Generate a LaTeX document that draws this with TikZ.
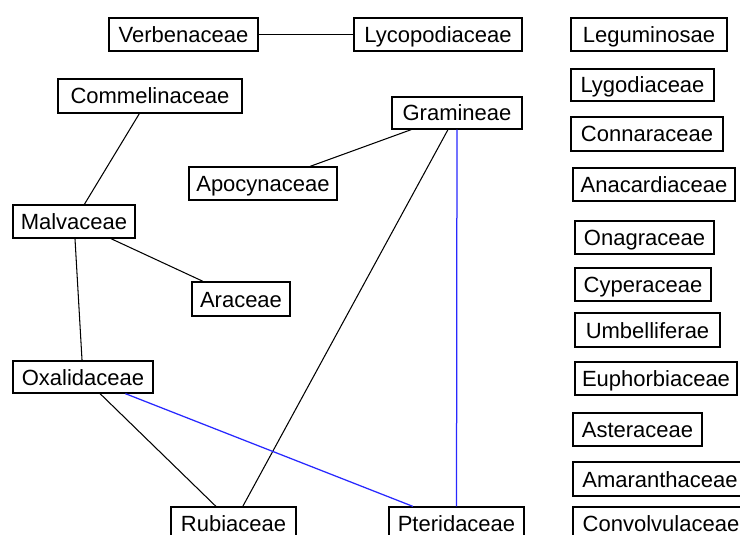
\documentclass[tikz,border=0pt]{standalone}
\usepackage{fontspec}
\setmainfont{Liberation Sans}
\definecolor{edgeblue}{RGB}{40,40,255}
\begin{document}
\begin{tikzpicture}[x=1pt,y=-1pt,
  fam/.style={draw=black, line width=1.3pt, fill=white, inner sep=0pt,
    minimum height=33pt, text height=18pt, text depth=2pt,
    font=\fontsize{22}{26}\selectfont, anchor=center},
  edge/.style={draw=black, line width=1.05pt},
  bedge/.style={draw=edgeblue, line width=1.25pt}]
\clip (0,0) rectangle (740,535);
\fill[white] (0,0) rectangle (740,535);
% nodes
\node[fam, minimum width=149pt] (verb) at (183.5,34.5) {Verbenaceae};
\node[fam, minimum width=168pt] (lyco) at (438,34.5) {Lycopodiaceae};
\node[fam, minimum width=156pt] (legu) at (649,34.5) {Leguminosae};
\node[fam, minimum width=143pt, minimum height=32pt] (lygo) at (642.5,85) {Lygodiaceae};
\node[fam, minimum width=152pt, minimum height=34pt] (conn) at (647,134) {Connaraceae};
\node[fam, minimum width=162pt] (anac) at (654,184.5) {Anacardiaceae};
\node[fam, minimum width=139pt] (onag) at (644.5,237.5) {Onagraceae};
\node[fam, minimum width=136pt] (cype) at (643,284.5) {Cyperaceae};
\node[fam, minimum width=145pt, minimum height=34pt] (umbe) at (647.5,330) {Umbelliferae};
\node[fam, minimum width=162pt] (euph) at (656,378.5) {Euphorbiaceae};
\node[fam, minimum width=129pt] (aste) at (637.5,429.5) {Asteraceae};
\node[fam, minimum width=174pt, minimum height=34pt] (amar) at (660,479) {Amaranthaceae};
\node[fam, minimum width=176pt] (conv) at (661,523.5) {Convolvulaceae};
\node[fam, minimum width=135pt] (pter) at (456.5,523.5) {Pteridaceae};
\node[fam, minimum width=125pt] (rubi) at (233.5,523.5) {Rubiaceae};
\node[fam, minimum width=184pt, minimum height=34pt] (comm) at (150,96) {Commelinaceae};
\node[fam, minimum width=148pt] (apoc) at (263,183.5) {Apocynaceae};
\node[fam, minimum width=130pt, minimum height=32pt] (gram) at (457,113) {Gramineae};
\node[fam, minimum width=122pt] (malv) at (74,221.5) {Malvaceae};
\node[fam, minimum width=98pt, minimum height=34pt] (arac) at (241,299) {Araceae};
\node[fam, minimum width=140pt, minimum height=32pt] (oxal) at (83,377) {Oxalidaceae};
% edges
\draw[edge] (verb) -- (lyco);
\draw[edge] (comm) -- (malv);
\draw[edge] (gram) -- (apoc);
\draw[edge] (gram) -- (rubi);
\draw[bedge] (gram) -- (pter);
\draw[edge] (malv) -- (arac);
\draw[edge] (malv) -- (oxal);
\draw[edge] (oxal) -- (rubi);
\draw[bedge] (oxal) -- (pter);
\end{tikzpicture}
\end{document}
